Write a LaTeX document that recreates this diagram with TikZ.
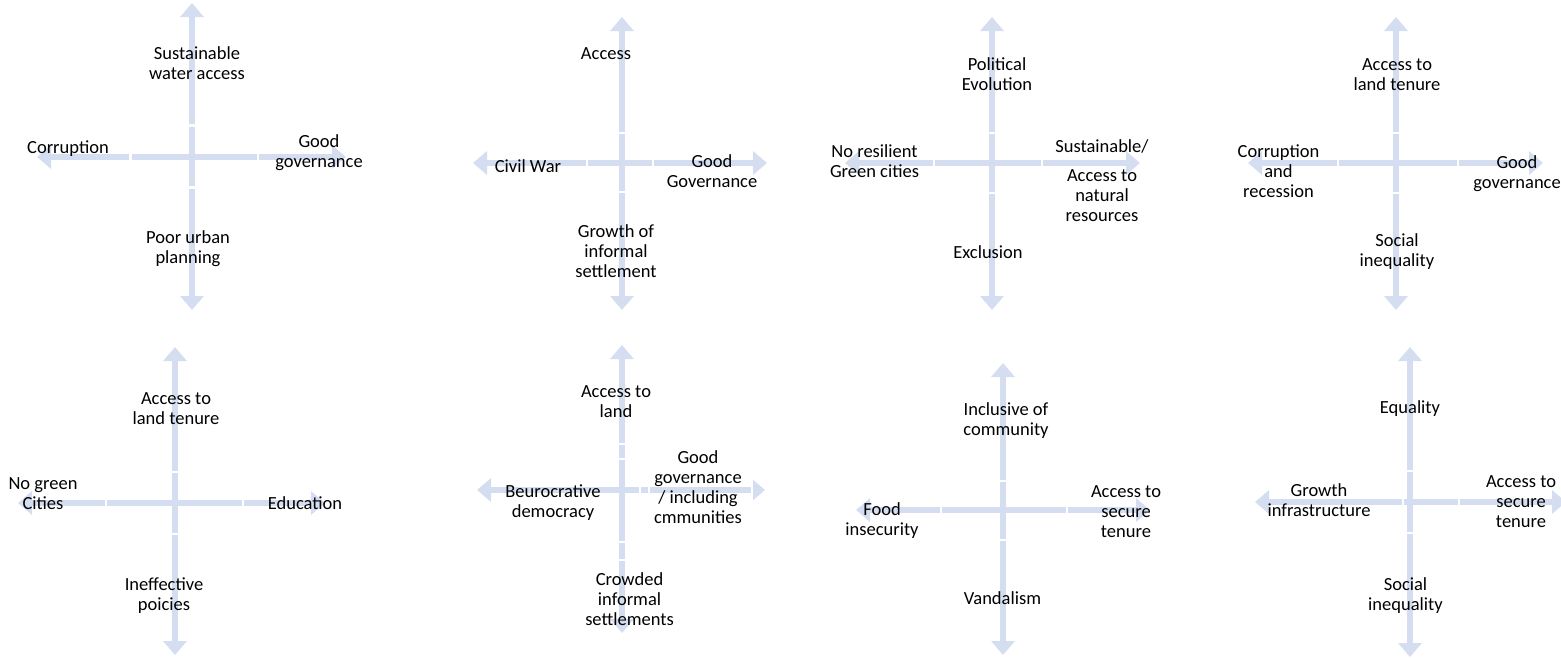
\documentclass[tikz,border=0pt]{standalone}
\usepackage{fontspec}
\setmainfont{Carlito}
\usetikzlibrary{arrows.meta}
\definecolor{axisblue}{RGB}{212,222,240}
\newcommand\vgap[2]{\draw[gapline] (#1-5,#2) -- (#1+5,#2);}
\newcommand\hgap[2]{\draw[gapline] (#1,#2-5) -- (#1,#2+5);}
\begin{document}
\begin{tikzpicture}[x=1pt,y=-1pt,
  axis/.style={draw=axisblue, line width=6pt,
    {Triangle[width=23pt,length=14pt]}-{Triangle[width=23pt,length=14pt]}},
  gapline/.style={draw=white, line width=2.6pt},
  lbl/.style={font=\fontsize{18.5}{20}\selectfont, align=center, inner sep=0pt, text=black}]
\useasboundingbox (0,0) rectangle (1561,657);

% ---------- Panel 1 ----------
\coordinate (a1t) at (192,3);   \coordinate (a1b) at (192,310);
\coordinate (a1l) at (37,157);  \coordinate (a1r) at (346,157);
\draw[axis] (a1t) -- (a1b);
\draw[axis] (a1l) -- (a1r);
\vgap{192}{125.5} \vgap{192}{187.5}
\hgap{130.5}{157} \hgap{258}{157}
\node[lbl] (n1t) at (197,63) {Sustainable\\water access};
\node[lbl] (n1l) at (68,149) {Corruption};
\node[lbl] (n1r) at (319,153) {Good\\governance};
\node[lbl] (n1b) at (188,249) {Poor urban\\planning};

% ---------- Panel 2 ----------
\coordinate (a2t) at (622,17);  \coordinate (a2b) at (622,310);
\coordinate (a2l) at (473,163); \coordinate (a2r) at (767,163);
\draw[axis] (a2t) -- (a2b);
\draw[axis] (a2l) -- (a2r);
\vgap{622}{133} \vgap{622}{192}
\hgap{587}{163} \hgap{653}{163}
\node[lbl] (n2t) at (606,54) {Access};
\node[lbl] (n2l) at (528,166) {Civil War};
\node[lbl] (n2r) at (712,171.5) {Good\\Governance};
\node[lbl] (n2b) at (616,251.5) {Growth of\\informal\\settlement};

% ---------- Panel 3 ----------
\coordinate (a3t) at (992,17);  \coordinate (a3b) at (992,310);
\coordinate (a3l) at (845,163); \coordinate (a3r) at (1140,163);
\draw[axis] (a3t) -- (a3b);
\draw[axis] (a3l) -- (a3r);
\vgap{992}{133} \vgap{992}{193}
\hgap{934}{163} \hgap{1042}{163}
\node[lbl] (n3t) at (997,74) {Political\\Evolution};
\node[lbl] (n3l) at (874.5,161.5) {No resilient\\Green cities};
\node[lbl] (n3r) at (1102,180.5) {Sustainable/\\[9pt]Access to\\natural\\resources};
\node[lbl] (n3b) at (988,252) {Exclusion};

% ---------- Panel 4 ----------
\coordinate (a4t) at (1396,17);  \coordinate (a4b) at (1396,310);
\coordinate (a4l) at (1248,163); \coordinate (a4r) at (1543,163);
\draw[axis] (a4t) -- (a4b);
\draw[axis] (a4l) -- (a4r);
\vgap{1396}{133} \vgap{1396}{193}
\hgap{1338}{163} \hgap{1458}{163}
\node[lbl] (n4t) at (1397,75) {Access to\\land tenure};
\node[lbl] (n4l) at (1278.5,171.5) {Corruption\\and\\recession};
\node[lbl] (n4r) at (1517,174) {Good\\governance};
\node[lbl] (n4b) at (1397,251.5) {Social\\inequality};

% ---------- Panel 5 ----------
\coordinate (a5t) at (175,347);  \coordinate (a5b) at (175,655);
\coordinate (a5l) at (18,503);   \coordinate (a5r) at (325,503);
\draw[axis] (a5t) -- (a5b);
\draw[axis] (a5l) -- (a5r);
\vgap{175}{472} \vgap{175}{534}
\hgap{106}{503} \hgap{243}{503}
\node[lbl] (n5t) at (176,408.5) {Access to\\land tenure};
\node[lbl] (n5l) at (43,494) {No green\\Cities};
\node[lbl] (n5r) at (305,503) {Education};
\node[lbl] (n5b) at (164,596) {Ineffective\\poicies};

% ---------- Panel 6 ----------
\coordinate (a6t) at (622,345);  \coordinate (a6b) at (622,633);
\coordinate (a6l) at (477,490);  \coordinate (a6r) at (765,490);
\draw[axis] (a6t) -- (a6b);
\draw[axis] (a6l) -- (a6r);
\vgap{622}{444} \vgap{622}{459} \vgap{622}{542} \vgap{622}{560}
\hgap{640}{490} \hgap{649}{490} \draw[gapline] (752,478) -- (752,502);
\node[lbl] (n6t) at (616,402) {Access to\\land};
\node[lbl] (n6l) at (553,502.5) {Beurocrative\\democracy};
\node[lbl] (n6r) at (698,487) {Good\\governance\\/ including\\cmmunities};
\node[lbl] (n6b) at (629.5,599.5) {Crowded\\informal\\settlements};

% ---------- Panel 7 ----------
\coordinate (a7t) at (1003,363);  \coordinate (a7b) at (1003,655);
\coordinate (a7l) at (856,510);   \coordinate (a7r) at (1150,510);
\draw[axis] (a7t) -- (a7b);
\draw[axis] (a7l) -- (a7r);
\vgap{1003}{481} \vgap{1003}{540}
\hgap{941}{510} \hgap{1067}{510}
\node[lbl] (n7t) at (1006,421) {Inclusive of\\community};
\node[lbl] (n7l) at (882,520.5) {Food\\insecurity};
\node[lbl] (n7r) at (1126,511.5) {Access to\\secure\\tenure};
\node[lbl] (n7b) at (1002.5,598) {Vandalism};

% ---------- Panel 8 ----------
\coordinate (a8t) at (1410,347);  \coordinate (a8b) at (1410,657);
\coordinate (a8l) at (1255,502);  \coordinate (a8r) at (1566,502);
\draw[axis] (a8t) -- (a8b);
\draw[axis] (a8l) -- (a8r);
\vgap{1410}{471} \vgap{1410}{533}
\hgap{1403}{502} \hgap{1459}{502}
\node[lbl] (n8t) at (1410,409) {Equality};
\node[lbl] (n8l) at (1319,500) {Growth\\infrastructure};
\node[lbl] (n8r) at (1521,502) {Access to\\secure\\tenure};
\node[lbl] (n8b) at (1405.5,596) {Social\\inequality};
\end{tikzpicture}
\end{document}
